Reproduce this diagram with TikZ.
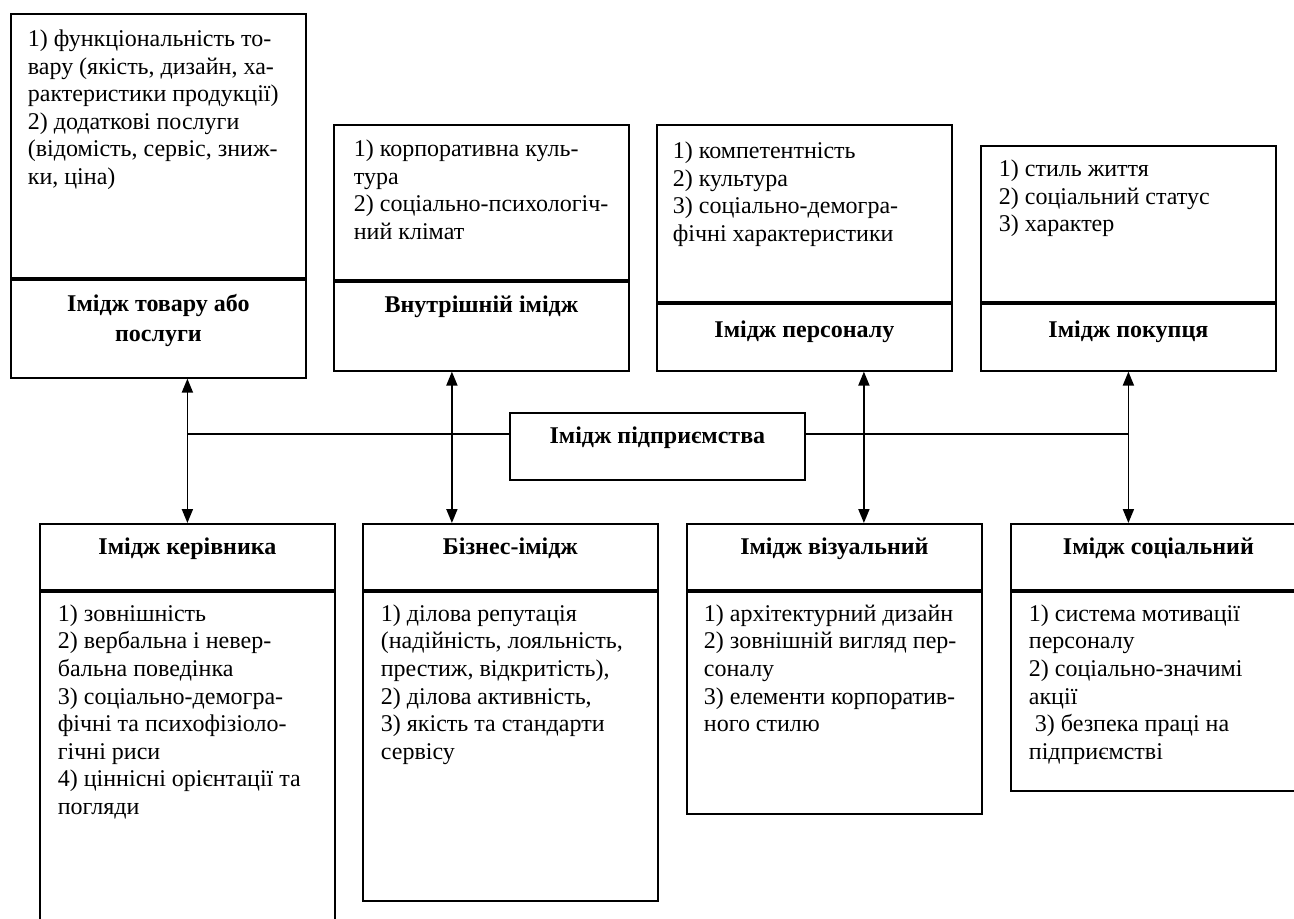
\documentclass[tikz,border=0pt]{standalone}
\usepackage{fontspec}
\setmainfont{Liberation Serif}
\usetikzlibrary{arrows.meta}

\begin{document}
\begin{tikzpicture}[x=1pt,y=1pt,line width=0.9pt,
  >={Triangle[length=7pt,width=5.5pt]},
  font=\fontsize{12pt}{13.8pt}\selectfont,
  frame node/.style={draw,anchor=north west,minimum width=147.5pt,inner sep=0pt},
  list node/.style={anchor=north west,align=left,inner sep=0pt},
  head node/.style={anchor=north,align=center,inner sep=0pt,
    font=\fontsize{12pt}{15pt}\selectfont\bfseries}]

  \useasboundingbox (0,0) rectangle (647,-459);

  % upper row
  \node[frame node,minimum height=132pt] (aList) at (5,-6.5) {};
  \node[frame node,minimum height=49pt] (aHead) at (aList.south west) {};
  \node[frame node,minimum height=77.5pt] (bList) at (166.5,-62) {};
  \node[frame node,minimum height=44.5pt] (bHead) at (bList.south west) {};
  \node[frame node,minimum height=88.5pt] (cList) at (328,-62) {};
  \node[frame node,minimum height=33.5pt] (cHead) at (cList.south west) {};
  \node[frame node,minimum height=78pt] (dList) at (490,-72.5) {};
  \node[frame node,minimum height=33.5pt] (dHead) at (dList.south west) {};

  \node[list node] (aText) at ([shift={(8.5,-8)}]aList.north west)
    {1) функціональність то-\\вару (якість, дизайн, ха-\\рактеристики продукції)\\2) додаткові послуги\\(відомість, сервіс, зниж-\\ки, ціна)};
  \node[head node] (aTitle) at ([yshift=-7.5]aHead.north) {Імідж товару або\\послуги};
  \node[list node] (bText) at ([shift={(10,-7.5)}]bList.north west)
    {1) корпоративна куль-\\тура\\2) соціально-психологіч-\\ний клімат};
  \node[head node] (bTitle) at ([yshift=-7]bHead.north) {Внутрішній імідж};
  \node[list node] (cText) at ([shift={(8,-8.5)}]cList.north west)
    {1) компетентність\\2) культура\\3) соціально-демогра-\\фічні характеристики};
  \node[head node] (cTitle) at ([yshift=-8.5]cHead.north) {Імідж персоналу};
  \node[list node] (dText) at ([shift={(9,-7)}]dList.north west)
    {1) стиль життя\\2) соціальний статус\\3) характер};
  \node[head node] (dTitle) at ([yshift=-8.5]dHead.north) {Імідж покупця};

  % centre
  \node[frame node,minimum height=33.5pt] (firm) at (254.5,-206) {};
  \node[head node] (firmTitle) at ([yshift=-7]firm.north) {Імідж підприємства};

  % lower row
  \node[frame node,minimum height=33pt] (eHead) at (19.5,-261.5) {};
  \node[frame node,minimum height=180pt] (eList) at (eHead.south west) {};
  \node[frame node,minimum height=33pt] (fHead) at (181,-261.5) {};
  \node[frame node,minimum height=154.5pt] (fList) at (fHead.south west) {};
  \node[frame node,minimum height=33pt] (gHead) at (343,-261.5) {};
  \node[frame node,minimum height=111pt] (gList) at (gHead.south west) {};
  \node[frame node,minimum height=33pt] (hHead) at (505,-261.5) {};
  \node[frame node,minimum height=99.5pt] (hList) at (hHead.south west) {};

  \node[head node] (eTitle) at ([yshift=-7]eHead.north) {Імідж керівника};
  \node[list node] (eText) at ([shift={(9,-6.5)}]eList.north west)
    {1) зовнішність\\2) вербальна і невер-\\бальна поведінка\\3) соціально-демогра-\\фічні та психофізіоло-\\гічні риси\\4) ціннісні орієнтації та\\погляди};
  \node[head node] (fTitle) at ([yshift=-7]fHead.north) {Бізнес-імідж};
  \node[list node] (fText) at ([shift={(9,-6.5)}]fList.north west)
    {1) ділова репутація\\(надійність, лояльність,\\престиж, відкритість),\\2) ділова активність,\\3) якість та стандарти\\сервісу};
  \node[head node] (gTitle) at ([yshift=-7]gHead.north) {Імідж візуальний};
  \node[list node] (gText) at ([shift={(8.5,-6.5)}]gList.north west)
    {1) архітектурний дизайн\\2) зовнішній вигляд пер-\\соналу\\3) елементи корпоратив-\\ного стилю};
  \node[head node] (hTitle) at ([yshift=-7]hHead.north) {Імідж соціальний};
  \node[list node] (hText) at ([shift={(9,-6.5)}]hList.north west)
    {1) система мотивації\\персоналу\\2) соціально-значимі\\акції\\\hspace*{0.25em}3) безпека праці на\\підприємстві};

  % connectors
  \draw ([yshift=6.25]firm.west) -- ([yshift=6.25]firm.west -| eHead.north);
  \draw ([yshift=6.25]firm.east) -- ([yshift=6.25]firm.east -| dHead.south);
  \draw[<->] (aHead.south -| eHead.north) -- (eHead.north);
  \draw[<->] ([xshift=-14.75]bHead.south) -- ([xshift=-14.75]bHead.south |- fHead.north);
  \draw[<->] ([xshift=14.75]gHead.north |- cHead.south) -- ([xshift=14.75]gHead.north);
  \draw[<->] (dHead.south) -- (dHead.south |- hHead.north);
\end{tikzpicture}
\end{document}
